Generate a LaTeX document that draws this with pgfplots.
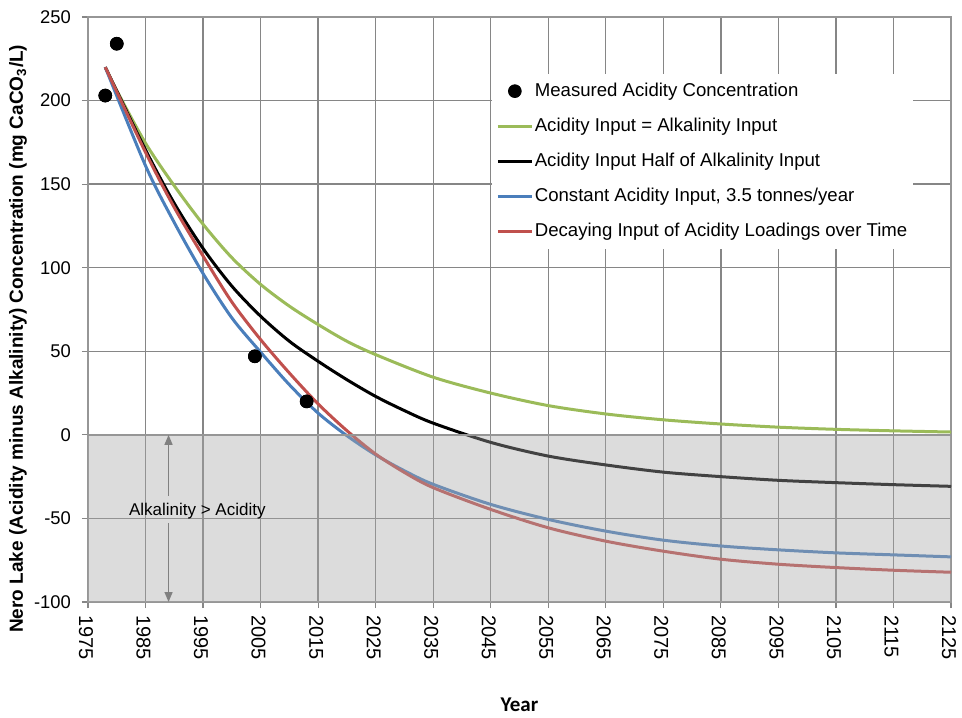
\documentclass[border=0pt]{standalone}
\usepackage{pgfplots}
\pgfplotsset{compat=1.18}
\usetikzlibrary{arrows.meta}
\usepackage{fontspec}
\setmainfont{Liberation Sans}
\newfontfamily\carlito{Carlito}
\definecolor{cgreen}{RGB}{155,187,89}
\definecolor{cblue}{RGB}{74,126,187}
\definecolor{cred}{RGB}{192,80,77}
\definecolor{cgrid}{RGB}{134,134,134}
\definecolor{caxis}{RGB}{150,150,150}
\definecolor{cshade}{RGB}{167,167,167}
\definecolor{carrow}{RGB}{128,128,128}
\begin{document}
\begin{tikzpicture}
\begin{axis}[
  scale only axis, width=431.5pt, height=292.5pt,
  xmin=1975, xmax=2125, ymin=-100, ymax=250,
  xtick={1975,1985,...,2125},
  xticklabels={1975,1985,1995,2005,2015,2025,2035,2045,2055,2065,2075,2085,2095,2105,2115,2125},
  ytick={-100,-50,...,250},
  yticklabels={-100,-50,0,50,100,150,200,250},
  grid=major,
  grid style={cgrid, line width=0.65pt},
  axis line style={caxis, line width=1pt},
  tick style={cgrid, line width=0.6pt},
  tick align=outside, major tick length=3pt, tick pos=left,
  xticklabel style={rotate=-90, anchor=west, font=\fontsize{10}{12}\selectfont, yshift=-1pt},
  yticklabel style={font=\fontsize{9.2}{11}\selectfont, xshift=-2pt},
  ylabel={Nero Lake (Acidity minus Alkalinity) Concentration (mg CaCO\textsubscript{3}/L)},
  ylabel style={at={(axis description cs:-0.081,0.45)}, anchor=center, font=\bfseries\fontsize{9.5}{11}\selectfont},
  xlabel={Year},
  xlabel style={at={(axis description cs:0.5,-0.176)}, anchor=center, font=\carlito\bfseries\fontsize{10.5}{12}\selectfont},
  legend cell align=left,
  legend style={draw=none, fill=white, at={(0.468,0.903)}, anchor=north west,
    font=\fontsize{9.3}{11}\selectfont, inner xsep=2pt, inner ysep=1pt, row sep=2.6pt,
    nodes={inner xsep=0.7pt, inner ysep=3pt, text height=7pt, text depth=2pt}},
]
\addplot[only marks, mark=*, mark size=3.2pt, black] coordinates {(1978,203) (1980,234) (2004,47) (2013,20)};
\addlegendentry{Measured Acidity Concentration}
\addplot[cgreen, line width=1.5pt, smooth] coordinates {
(1978,220) (1980,206) (1985,174.5) (1990,149) (1995,126) (2000,106) (2005,90) (2010,77) (2015,66) (2020,56) (2025,48)
(2035,34.5) (2045,25) (2055,17.5) (2065,12.5) (2075,9) (2085,6.5) (2095,4.6) (2105,3.3) (2115,2.4) (2125,1.7)};
\addlegendentry{Acidity Input = Alkalinity Input}
\addplot[black, line width=1.5pt, smooth] coordinates {
(1978,220) (1985,170.5) (1990,138.5) (1995,111.5) (2000,89) (2005,71) (2010,56) (2015,44) (2020,33) (2025,23) (2030,14.5)
(2035,7) (2045,-4.5) (2055,-12.7) (2065,-18) (2075,-22.3) (2085,-25) (2095,-27.2) (2105,-28.6) (2115,-29.8) (2125,-30.8)};
\addlegendentry{Acidity Input Half of Alkalinity Input}
\addplot[cblue, line width=1.5pt, smooth] coordinates {
(1978,220) (1985,161) (1990,127) (1995,96.5) (2000,70) (2005,49.5) (2010,30) (2015,13) (2020,-0.5) (2025,-12) (2030,-21.5)
(2035,-29.6) (2045,-41.6) (2055,-50.6) (2065,-57.6) (2075,-63) (2085,-66.5) (2095,-68.8) (2105,-70.6) (2115,-71.8) (2125,-73)};
\addlegendentry{Constant Acidity Input, 3.5 tonnes/year}
\addplot[cred, line width=1.5pt, smooth] coordinates {
(1978,220) (1985,169) (1990,136) (1995,107) (2000,79.5) (2005,57) (2010,37) (2015,18.5) (2020,2.5) (2025,-11.5) (2030,-22.5)
(2035,-31.6) (2045,-44.6) (2055,-55.6) (2065,-63.6) (2075,-69.6) (2085,-74.4) (2095,-77.4) (2105,-79.4) (2115,-81) (2125,-82.2)};
\addlegendentry{Decaying Input of Acidity Loadings over Time}
\addplot[only marks, mark=*, mark size=3.2pt, black, forget plot] coordinates {(1978,203) (1980,234) (2004,47) (2013,20)};
\fill[cshade, opacity=0.4] (axis cs:1975,-100) rectangle (axis cs:2125,0);
\draw[caxis, line width=1pt] (axis cs:1975,0) -- (axis cs:2125,0);
\draw[carrow, line width=0.7pt, -{Triangle[length=5pt,width=4pt]}] (axis cs:1989,-36.5) -- (axis cs:1989,0);
\draw[carrow, line width=0.7pt, -{Triangle[length=5pt,width=4pt]}] (axis cs:1989,-53) -- (axis cs:1989,-100);
\node[font=\fontsize{8.5}{10}\selectfont] at (axis cs:1994,-45.5) {Alkalinity > Acidity};
\end{axis}
\pgfresetboundingbox
\path[use as bounding box] ([shift={(-44pt,-57.5pt)}]current axis.south west) rectangle ([shift={(5.5pt,8.5pt)}]current axis.north east);
\end{tikzpicture}
\end{document}
